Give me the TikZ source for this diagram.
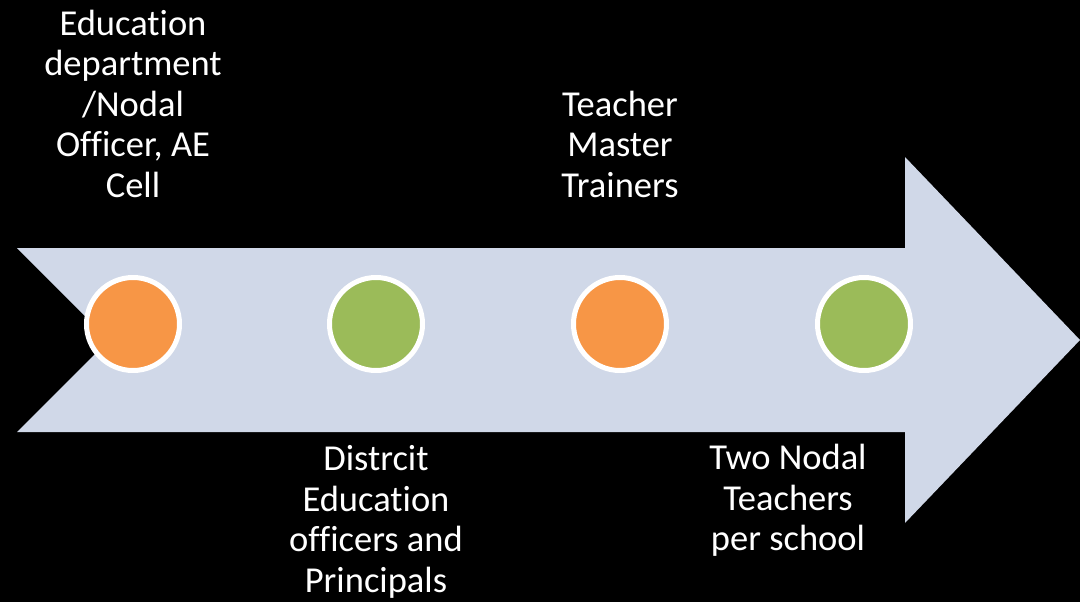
\documentclass[tikz,border=0pt]{standalone}
\usepackage{fontspec}
\setmainfont[Ligatures=NoCommon]{Carlito}
\definecolor{arrowfill}{HTML}{D0D8E8}
\definecolor{stageorange}{HTML}{F79646}
\definecolor{stagegreen}{HTML}{9BBB59}
\tikzset{
 stage/.style={circle, draw=white, line width=5pt, minimum size=93pt, inner sep=0pt},
 caption/.style={text=white, align=center, inner sep=0pt, font=\fontsize{36.5}{40.5}\selectfont}
}
\begin{document}
\begin{tikzpicture}[x=1pt,y=-1pt]
 \fill[black] (0,0) rectangle (1080,602);
 \useasboundingbox (0,0) rectangle (1080,602);
 % big arrow
 \fill[arrowfill] (17,248) -- (905,248) -- (905,157) -- (1080,340)
   -- (905,523) -- (905,432) -- (17,432) -- (109,340) -- cycle;

 \node (S1) [stage, fill=stageorange] at (133,324) {};
 \node (S2) [stage, fill=stagegreen] at (376,324) {};
 \node (S3) [stage, fill=stageorange] at (620,324) {};
 \node (S4) [stage, fill=stagegreen] at (864,324) {};

 % captions (base = last line)
 \node (T1) [caption, anchor=base] at (133,197) {Education\\department\\/Nodal\\Officer, AE\\Cell};
 \node (T2) [caption, anchor=base] at (376,592) {Distrcit\\Education\\officers and\\Principals};
 \node (T3) [caption, anchor=base] at (620,197) {Teacher\\Master\\Trainers};
 \node (T4) [caption, anchor=base] at (788,550.5) {Two Nodal\\Teachers\\per school};
\end{tikzpicture}
\end{document}
